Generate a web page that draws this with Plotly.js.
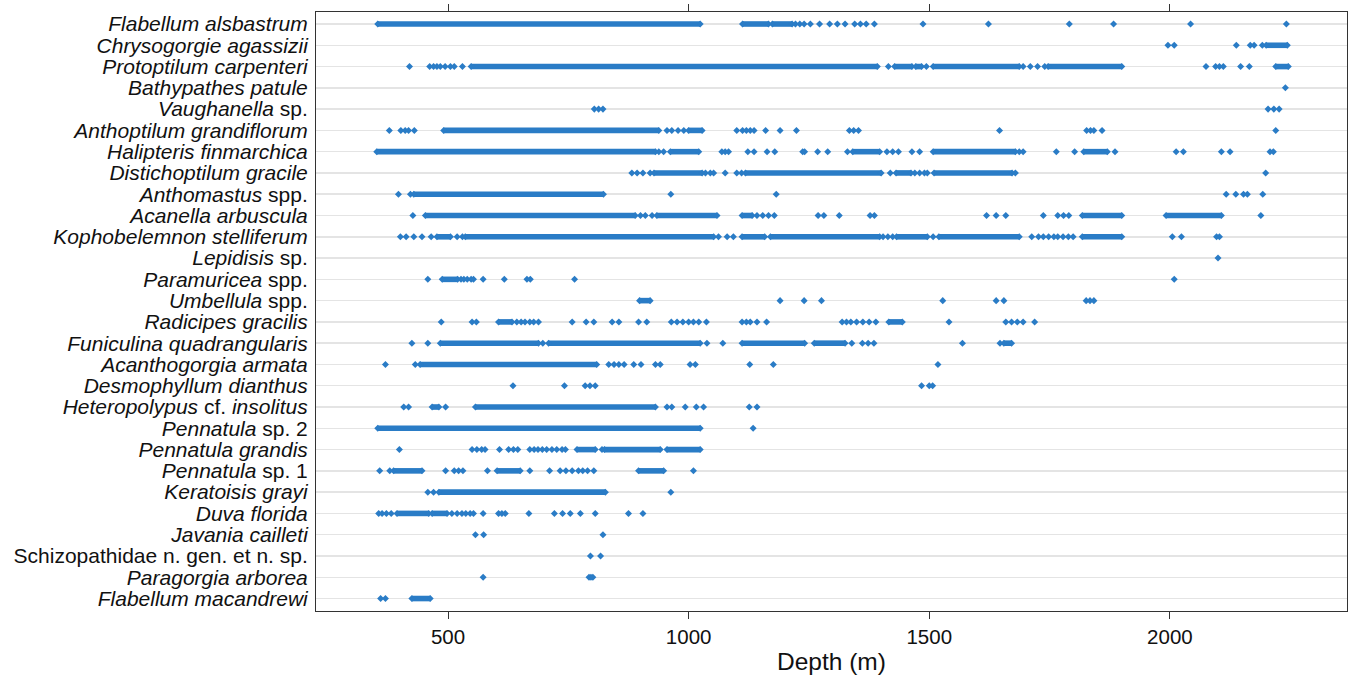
<!DOCTYPE html>
<html>
<head>
<meta charset="utf-8">
<script src="https://cdn.plot.ly/plotly-3.0.1.min.js"></script>
<style>html,body{margin:0;padding:0;background:#fff;}#chart{width:1349px;height:677px;}</style>
</head>
<body>
<div id="chart"></div>
<script>
// Species labels (top to bottom)
const speciesLabels = [
  "<i>Flabellum alsbastrum</i>",
  "<i>Chrysogorgie agassizii</i>",
  "<i>Protoptilum carpenteri</i>",
  "<i>Bathypathes patule</i>",
  "<i>Vaughanella</i> sp.",
  "<i>Anthoptilum grandiflorum</i>",
  "<i>Halipteris finmarchica</i>",
  "<i>Distichoptilum gracile</i>",
  "<i>Anthomastus</i> spp.",
  "<i>Acanella arbuscula</i>",
  "<i>Kophobelemnon stelliferum</i>",
  "<i>Lepidisis</i> sp.",
  "<i>Paramuricea</i> spp.",
  "<i>Umbellula</i> spp.",
  "<i>Radicipes gracilis</i>",
  "<i>Funiculina quadrangularis</i>",
  "<i>Acanthogorgia armata</i>",
  "<i>Desmophyllum dianthus</i>",
  "<i>Heteropolypus</i> cf. <i>insolitus</i>",
  "<i>Pennatula</i> sp. 2",
  "<i>Pennatula grandis</i>",
  "<i>Pennatula</i> sp. 1",
  "<i>Keratoisis grayi</i>",
  "<i>Duva florida</i>",
  "<i>Javania cailleti</i>",
  "Schizopathidae n. gen. et n. sp.",
  "<i>Paragorgia arborea</i>",
  "<i>Flabellum macandrewi</i>"
];

// Isolated observation depths (m) per species
const P_flabellumAlsbastrum = [1222,1231,1240,1253,1272,1293,1309,1325,1345,1357,1369,1386,1487,1623,1791,1883,2043,2242];
const P_chrysogorgieAgassizii = [1996,2009,2138,2167,2175,2192];
const P_protoptilumCarpenteri = [420,462,470,477,484,494,505,513,530,1415,1494,1695,1710,1725,1740,2075,2095,2103,2111,2147,2165];
const P_bathypathesPatule = [2240];
const P_vaughanella = [804,813,822,2204,2216,2227];
const P_anthoptilumGrandiflorum = [378,402,411,418,430,955,965,978,990,1100,1112,1120,1128,1136,1160,1190,1224,1334,1343,1353,1646,1827,1835,1842,1859,2220];
const P_halipterisFinmarchica = [938,948,1069,1076,1083,1123,1136,1163,1179,1237,1241,1268,1289,1330,1412,1424,1436,1464,1480,1687,1695,1764,1802,1886,2013,2028,2107,2125,2208,2215];
const P_distichoptilumGracile = [882,893,905,920,1035,1045,1052,1076,1100,1110,1419,1470,1480,1490,1496,1679,2199];
const P_anthomastus = [397,422,963,1182,2117,2137,2153,2161,2193];
const P_acanellaArbuscula = [427,900,910,924,1142,1154,1166,1178,1269,1281,1313,1377,1386,1619,1639,1659,1737,1767,1779,1790,2189];
const P_kophobelemnonStelliferum = [401,413,429,446,465,519,530,1062,1080,1093,1404,1414,1424,1508,1713,1727,1737,1748,1759,1767,1778,1789,1799,2005,2024,2097,2103];
const P_lepidisis = [2100];
const P_paramuricea = [458,527,533,540,548,553,573,617,664,671,763,2009];
const P_umbellula = [1190,1240,1276,1528,1639,1655,1826,1834,1842];
const P_radicipesGracilis = [486,550,559,643,652,660,670,678,688,758,787,803,841,855,896,913,964,976,988,1000,1010,1021,1037,1111,1120,1128,1142,1162,1319,1328,1337,1349,1362,1375,1389,1541,1659,1671,1683,1695,1719];
const P_funiculinaQuadrangularis = [425,458,697,1038,1071,1339,1361,1373,1385,1569,1647];
const P_acanthogorgiaArmata = [370,432,834,845,855,866,886,901,931,941,1003,1014,1127,1176,1518];
const P_desmophyllumDianthus = [635,742,785,795,806,1484,1500,1507];
const P_heteropolypusInsolitus = [408,418,495,955,965,993,1016,1031,1126,1142];
const P_pennatulaSp2 = [1134];
const P_pennatulaGrandis = [399,550,560,570,577,607,626,636,645,670,679,687,696,705,716,726,737,744,820];
const P_pennatulaSp1 = [358,379,495,513,522,531,582,670,711,733,745,758,771,780,790,803,1010];
const P_keratoisisGrayi = [458,470,963];
const P_duvaFlorida = [356,363,372,382,508,519,529,537,546,553,573,605,612,619,668,721,738,754,775,806,875,905];
const P_javaniaCailleti = [557,574,822];
const P_schizopathidae = [796,817];
const P_paragorgiaArborea = [573,793,797,801];
const P_flabellumMacandrewi = [360,370];

// Depth intervals (m) with continuous, overlapping observations per species
const R_flabellumAlsbastrum = [[354,1024],[1112,1166],[1174,1215]];
const R_chrysogorgieAgassizii = [[2200,2244]];
const R_protoptilumCarpenteri = [[548,1392],[1428,1464],[1472,1484],[1508,1687],[1747,1900],[2220,2246]];
const R_bathypathesPatule = [];
const R_vaughanella = [];
const R_anthoptilumGrandiflorum = [[491,938],[1000,1028]];
const R_halipterisFinmarchica = [[352,931],[962,1021],[1341,1397],[1508,1679],[1821,1870]];
const R_distichoptilumGracile = [[928,1028],[1118,1400],[1431,1462],[1510,1672]];
const R_anthomastus = [[429,823]];
const R_acanellaArbuscula = [[453,889],[934,1059],[1111,1132],[1818,1900],[1992,2107]];
const R_kophobelemnonStelliferum = [[477,505],[536,1052],[1111,1158],[1170,1397],[1432,1496],[1520,1687],[1818,1900]];
const R_lepidisis = [];
const R_paramuricea = [[488,520]];
const R_umbellula = [[898,920]];
const R_radicipesGracilis = [[605,633],[1416,1444]];
const R_funiculinaQuadrangularis = [[484,688],[709,1024],[1111,1241],[1261,1325],[1655,1671]];
const R_acanthogorgiaArmata = [[442,809]];
const R_desmophyllumDianthus = [];
const R_heteropolypusInsolitus = [[467,481],[557,931]];
const R_pennatulaSp2 = [[354,1024]];
const R_pennatulaGrandis = [[768,806],[825,941],[955,1024]];
const R_pennatulaSp1 = [[387,446],[602,650],[896,948]];
const R_keratoisisGrayi = [[481,827]];
const R_duvaFlorida = [[394,460],[467,498]];
const R_javaniaCailleti = [];
const R_schizopathidae = [];
const R_paragorgiaArborea = [];
const R_flabellumMacandrewi = [[425,463]];

const xTickVals = [500,1000,1500,2000];
const xTickText = ["500","1000","1500","2000"];

const pointSets = [P_flabellumAlsbastrum,P_chrysogorgieAgassizii,P_protoptilumCarpenteri,P_bathypathesPatule,P_vaughanella,P_anthoptilumGrandiflorum,P_halipterisFinmarchica,P_distichoptilumGracile,P_anthomastus,P_acanellaArbuscula,P_kophobelemnonStelliferum,P_lepidisis,P_paramuricea,P_umbellula,P_radicipesGracilis,P_funiculinaQuadrangularis,P_acanthogorgiaArmata,P_desmophyllumDianthus,P_heteropolypusInsolitus,P_pennatulaSp2,P_pennatulaGrandis,P_pennatulaSp1,P_keratoisisGrayi,P_duvaFlorida,P_javaniaCailleti,P_schizopathidae,P_paragorgiaArborea,P_flabellumMacandrewi];
const runSets = [R_flabellumAlsbastrum,R_chrysogorgieAgassizii,R_protoptilumCarpenteri,R_bathypathesPatule,R_vaughanella,R_anthoptilumGrandiflorum,R_halipterisFinmarchica,R_distichoptilumGracile,R_anthomastus,R_acanellaArbuscula,R_kophobelemnonStelliferum,R_lepidisis,R_paramuricea,R_umbellula,R_radicipesGracilis,R_funiculinaQuadrangularis,R_acanthogorgiaArmata,R_desmophyllumDianthus,R_heteropolypusInsolitus,R_pennatulaSp2,R_pennatulaGrandis,R_pennatulaSp1,R_keratoisisGrayi,R_duvaFlorida,R_javaniaCailleti,R_schizopathidae,R_paragorgiaArborea,R_flabellumMacandrewi];

const blue = '#2a7cc6';
const px = [], py = [];
pointSets.forEach((arr, i) => arr.forEach(d => { px.push(d); py.push(i); }));
const rx = [], ry = [];
runSets.forEach((arr, i) => arr.forEach(r => { rx.push(r[0], r[1], null); ry.push(i, i, null); }));

const traces = [
  {type:'scatter', mode:'lines+markers', x:rx, y:ry, connectgaps:false,
   line:{color:blue, width:5.6}, marker:{symbol:'diamond', size:5.4, color:blue},
   hoverinfo:'x', showlegend:false},
  {type:'scatter', mode:'markers', x:px, y:py,
   marker:{symbol:'diamond', size:5.4, color:blue, line:{width:0}},
   hoverinfo:'x', showlegend:false}
];

const n = speciesLabels.length;
const layout = {
  width:1349, height:677,
  margin:{l:316, r:2, t:12, b:66, pad:0},
  paper_bgcolor:'#fff', plot_bgcolor:'#fff',
  font:{family:'"Liberation Sans", Arial, sans-serif', color:'#111'},
  showlegend:false,
  xaxis:{
    range:[225.7, 2368], tickvals:xTickVals, ticktext:xTickText,
    ticks:'outside', ticklen:7, tickwidth:1, tickcolor:'#333',
    showline:true, linecolor:'#333', linewidth:1, mirror:'ticks',
    showgrid:false, zeroline:false,
    tickfont:{size:20.5, color:'#111'},
    title:{text:'Depth (m)', font:{size:24.5, color:'#111'}, standoff:6}
  },
  yaxis:{
    range:[n - 1 + 0.586, -0.564],
    tickvals:speciesLabels.map((_, i) => i), ticktext:speciesLabels,
    ticks:'', showline:true, linecolor:'#333', linewidth:1, mirror:true,
    showgrid:true, gridcolor:'#e4e4e4', gridwidth:1.5, zeroline:false,
    tickfont:{size:21, color:'#111'}, ticklabelstandoff:3
  }
};

Plotly.newPlot('chart', traces, layout, {displayModeBar:false, staticPlot:true});
</script>
</body>
</html>
